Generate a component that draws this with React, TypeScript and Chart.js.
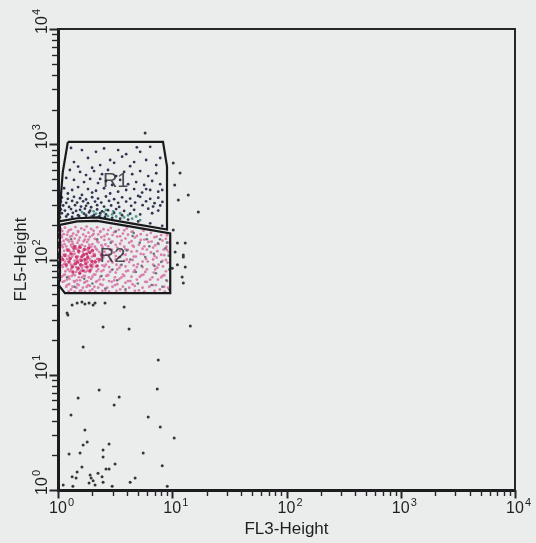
import { useEffect, useRef } from 'react';
import { Chart, registerables } from 'chart.js';

Chart.register(...registerables);

type Pt = [number, number];

// ---- axis data ----
const decadeTicks = [1, 10, 100, 1000, 10000];
const decadeExponents = ['0', '1', '2', '3', '4'];
const minorMultipliers = [1, 2, 3, 4, 5, 6, 7, 8, 9];
const xAxisTitle = 'FL3-Height';
const yAxisTitle = 'FL5-Height';

// ---- gates (FL3, FL5 vertices) ----
const r1GateX = [1.22, 8.3, 9.0, 9.0, 4.5, 2.2, 1.47, 1.02, 1.1, 1.22];
const r1GateY = [1050, 1050, 640, 182, 205, 232, 228, 214, 570, 1050];
const r2GateX = [1.04, 1.47, 2.2, 4.5, 9.6, 9.6, 1.15, 1.0, 1.04, 1.04];
const r2GateY = [200, 214, 216, 192, 168, 51, 51, 61, 66, 200];
const gateNames = ['R1', 'R2'];
const gateLabelX = [3.2, 3.0];
const gateLabelY = [480, 107];

// ---- events ----
const r1Events: Pt[] = [
  [1.62, 890], [2.15, 860], [2.53, 920], [3.36, 890], [3.95, 820], [5.24, 860], [6.41, 950], [1.83, 760],
  [2.86, 730], [3.64, 780], [4.64, 700], [5.91, 730], [7.24, 660], [1.38, 700], [2.34, 660], [3.1, 690],
  [1.99, 625], [4.28, 645], [7.85, 760], [1.5, 640], [1.3, 930], [4.9, 940],
  [1.27, 598], [1.56, 575], [1.76, 540], [2.07, 585], [2.43, 550], [2.74, 598], [3.23, 530], [3.79, 575],
  [4.46, 550], [5.24, 585], [6.16, 530], [7.24, 560], [1.18, 510], [1.38, 490], [1.69, 470], [1.91, 500],
  [2.24, 460], [2.63, 480], [2.98, 443], [3.5, 490], [4.11, 450], [4.83, 470], [5.68, 443], [6.67, 480],
  [7.85, 450], [1.13, 415], [1.33, 401], [1.5, 425], [1.83, 408], [2.15, 395], [2.53, 415], [3.36, 388],
  [3.95, 401], [4.64, 408], [5.45, 381], [6.41, 401], [7.54, 388], [1.22, 374], [1.62, 363], [1.99, 381],
  [2.86, 374], [5.03, 356], [8.17, 401], [2.34, 500], [5.91, 408],
  [1.08, 345], [1.22, 336], [1.38, 350], [1.56, 340], [1.76, 332], [1.99, 347], [2.24, 338], [2.63, 352],
  [3.1, 334], [3.64, 346], [4.28, 338], [5.24, 350], [6.41, 336], [7.54, 344],
  [1.06, 318], [1.18, 310], [1.33, 322], [1.47, 312], [1.66, 320], [1.83, 308], [2.11, 318], [2.39, 312],
  [2.8, 322], [3.36, 310], [3.95, 318], [4.73, 312], [5.9, 320], [7.0, 308], [8.2, 316],
  [1.11, 294], [1.25, 286], [1.41, 296], [1.59, 288], [1.76, 292], [1.95, 284], [2.2, 296], [2.53, 288],
  [2.92, 294], [3.43, 286], [4.37, 292], [5.5, 296], [6.8, 288], [7.85, 294],
  [1.06, 272], [1.15, 266], [1.3, 274], [1.44, 264], [1.56, 270], [1.72, 276], [1.91, 266], [2.2, 272],
  [2.43, 262], [2.74, 268], [3.23, 274], [3.79, 264], [4.64, 270], [6.16, 276], [7.54, 266],
  [1.08, 252], [1.22, 246], [1.35, 254], [1.5, 242], [1.69, 250], [1.87, 256], [2.07, 244], [2.34, 252],
  [2.63, 246], [3.1, 254], [3.64, 242], [4.28, 250], [5.24, 246], [6.67, 252],
  [1.04, 232], [1.18, 236], [1.33, 234], [1.53, 238], [1.76, 240], [2.03, 238], [2.29, 236], [2.58, 234],
  [2.98, 230], [3.5, 226], [4.11, 222], [5.03, 214], [6.41, 206], [8.17, 196],
];

const r1BoundaryEvents: Pt[] = [
  [1.76, 244], [1.95, 236], [2.15, 250], [2.34, 240], [2.53, 258], [2.74, 238], [2.98, 246], [3.23, 236],
  [3.5, 252], [3.79, 232], [4.11, 242], [4.46, 226], [4.83, 236], [5.24, 220], [2.05, 262], [2.63, 270],
  [3.05, 262], [1.62, 258],
];

const r2Events: Pt[] = [
  [1.06, 184], [1.15, 189], [1.3, 182], [1.42, 191], [1.6, 186], [1.78, 193], [1.95, 184], [2.2, 190],
  [2.5, 183], [2.9, 188], [3.4, 181], [4.0, 186],
  [1.04, 172], [1.12, 166], [1.22, 174], [1.36, 168], [1.5, 173], [1.66, 165], [1.85, 171], [2.05, 167],
  [2.35, 174], [2.7, 166], [3.1, 172], [3.7, 168], [4.4, 174], [5.3, 166], [6.5, 170], [8.0, 163],
  [1.08, 156], [1.18, 150], [1.28, 158], [1.4, 152], [1.55, 155], [1.72, 149], [1.9, 157], [2.1, 151],
  [2.4, 156], [2.8, 150], [3.3, 158], [3.9, 152], [4.7, 155], [5.7, 149], [7.0, 156], [8.8, 151],
  [1.05, 141], [1.14, 136], [1.25, 143], [1.35, 137], [1.48, 140], [1.62, 134], [1.8, 142], [2.0, 136],
  [2.25, 141], [2.6, 135], [3.0, 143], [3.5, 137], [4.2, 140], [5.1, 134], [6.2, 142], [7.6, 136], [9.2, 140],
  [1.1, 128], [1.2, 123], [1.32, 129], [1.45, 124], [1.58, 127], [1.75, 122], [1.95, 129], [2.15, 124],
  [2.45, 128], [2.85, 122], [3.3, 127], [3.9, 123], [4.6, 129], [5.5, 124], [6.8, 127], [8.4, 122],
  [1.04, 116], [1.16, 111], [1.28, 117], [1.4, 112], [1.52, 115], [1.68, 110], [1.85, 117], [2.05, 112],
  [2.3, 116], [2.65, 110], [3.1, 115], [3.7, 111], [4.4, 117], [5.3, 112], [6.5, 115], [8.0, 110], [9.3, 116],
  [1.08, 105], [1.2, 101], [1.33, 106], [1.46, 100], [1.6, 104], [1.78, 99], [1.98, 106], [2.2, 101],
  [2.5, 105], [2.9, 99], [3.4, 104], [4.0, 100], [4.8, 106], [5.9, 101], [7.3, 104], [8.8, 99],
  [1.05, 95], [1.13, 91], [1.24, 96], [1.37, 90], [1.5, 94], [1.65, 89], [1.82, 95], [2.02, 91],
  [2.28, 96], [2.62, 90], [3.0, 94], [3.55, 89], [4.2, 95], [5.0, 91], [6.1, 96], [7.6, 90], [9.1, 94],
  [1.1, 86], [1.22, 82], [1.35, 87], [1.48, 81], [1.62, 85], [1.8, 80], [2.0, 86], [2.25, 82],
  [2.55, 87], [2.95, 81], [3.45, 85], [4.1, 80], [4.9, 86], [6.0, 82], [7.4, 85],
  [1.04, 78], [1.15, 74], [1.27, 79], [1.4, 73], [1.55, 77], [1.72, 72], [1.9, 78], [2.12, 74],
  [2.4, 79], [2.75, 73], [3.2, 77], [3.8, 72], [4.6, 78], [5.6, 74], [6.9, 77], [8.5, 73],
  [1.08, 71], [1.2, 67], [1.32, 72], [1.46, 66], [1.62, 70], [1.8, 65], [2.0, 71], [2.3, 67],
  [2.65, 72], [3.1, 66], [3.6, 70], [4.3, 65], [5.2, 71], [6.4, 67], [8.0, 70],
  [1.1, 64], [1.25, 61], [1.38, 65], [1.52, 60], [1.7, 63], [1.9, 59], [2.15, 64], [2.45, 60],
  [2.8, 65], [3.3, 61], [3.9, 63], [4.7, 59], [5.8, 64], [7.2, 60],
  [1.18, 58], [1.3, 55], [1.45, 57], [1.6, 54], [1.78, 58], [2.0, 55], [2.25, 57], [2.6, 54],
  [3.0, 58], [3.5, 55], [4.2, 57], [5.1, 54], [6.3, 58], [7.8, 55], [9.2, 57],
  [1.09, 177], [1.25, 180], [1.5, 176], [1.7, 181], [2.05, 178], [2.35, 175], [2.75, 180], [3.2, 176],
  [3.8, 179], [4.5, 175], [5.6, 178],
  [1.07, 161], [1.2, 164], [1.32, 160], [1.45, 163], [1.75, 159], [2.0, 162], [2.25, 165], [2.55, 160],
  [3.0, 163], [3.5, 159], [4.1, 164], [4.9, 160], [6.0, 163], [7.3, 158], [9.0, 162],
  [1.02, 147], [1.12, 145], [1.22, 148], [1.33, 143], [1.52, 147], [1.68, 144], [1.85, 149], [2.2, 145],
  [2.55, 148], [2.95, 143], [3.6, 146], [4.4, 144], [5.3, 148], [6.6, 143], [8.2, 146],
  [1.08, 133], [1.18, 130], [1.3, 134], [1.42, 129], [1.55, 132], [1.72, 130], [1.88, 134], [2.1, 129],
  [2.4, 133], [2.75, 130], [3.2, 134], [3.8, 129], [4.5, 132], [5.7, 130], [7.1, 133], [8.9, 129],
  [1.02, 121], [1.13, 119], [1.24, 122], [1.37, 118], [1.5, 121], [1.65, 117], [1.82, 122], [2.0, 118],
  [2.2, 121], [2.55, 117], [2.95, 122], [3.5, 119], [4.1, 121], [4.9, 118], [6.0, 122], [7.4, 118], [9.0, 121],
  [1.12, 110], [1.24, 107], [1.36, 111], [1.5, 106], [1.64, 109], [1.82, 107], [2.1, 111], [2.4, 106],
  [2.8, 110], [3.2, 107], [3.9, 110], [4.6, 106], [5.6, 111], [7.0, 107], [8.5, 109],
  [1.03, 99], [1.15, 96], [1.27, 100], [1.4, 97], [1.55, 99], [1.72, 96], [1.9, 100], [2.1, 97],
  [2.38, 99], [2.75, 96], [3.2, 100], [3.8, 97], [4.5, 99], [5.5, 96], [6.8, 100], [8.2, 97],
  [1.08, 89], [1.18, 87], [1.3, 90], [1.44, 86], [1.58, 88], [1.74, 86], [1.92, 90], [2.15, 87],
  [2.45, 89], [2.8, 86], [3.25, 90], [3.9, 87], [4.6, 89], [5.5, 86], [6.8, 90], [8.3, 87],
  [1.04, 81], [1.16, 79], [1.3, 82], [1.44, 78], [1.58, 80], [1.74, 78], [1.95, 82], [2.18, 79],
  [2.5, 81], [2.85, 78], [3.3, 82], [3.95, 79], [4.7, 81], [5.8, 78], [7.1, 82], [8.8, 79],
  [1.12, 73], [1.24, 71], [1.36, 74], [1.52, 70], [1.68, 72], [1.86, 70], [2.06, 74], [2.35, 71],
  [2.7, 73], [3.15, 70], [3.7, 74], [4.4, 71], [5.4, 73], [6.7, 70], [8.2, 72],
  [1.04, 67], [1.14, 65], [1.26, 68], [1.4, 64], [1.56, 66], [1.74, 64], [1.95, 68], [2.2, 65],
  [2.5, 67], [2.95, 64], [3.45, 68], [4.1, 65], [4.9, 67], [6.0, 64], [7.5, 67], [9.0, 65],
  [1.2, 60], [1.34, 58], [1.48, 61], [1.65, 57], [1.84, 60], [2.08, 58], [2.35, 61], [2.7, 57],
  [3.15, 60], [3.7, 58], [4.5, 61], [5.5, 57], [6.8, 60], [8.5, 58],
  [1.24, 53], [1.4, 52.5], [1.55, 53.5], [1.72, 52.5], [1.9, 53.5], [2.12, 52.5], [2.45, 53.5], [2.8, 52.5],
  [3.25, 53.5], [3.9, 52.5], [4.7, 53.5], [5.7, 52.5], [7.0, 53.5], [8.6, 52.5],
];

const r2CoreEvents: Pt[] = [
  [1.22, 120], [1.3, 112], [1.38, 125], [1.45, 105], [1.52, 118], [1.6, 98], [1.68, 110], [1.75, 92],
  [1.82, 104], [1.9, 115], [1.98, 96], [2.08, 108], [2.2, 88], [2.3, 100], [1.25, 95], [1.33, 86],
  [1.42, 92], [1.5, 84], [1.58, 90], [1.66, 80], [1.72, 100], [1.8, 86], [1.4, 130], [1.55, 128],
  [1.7, 122], [1.86, 126], [2.0, 120], [1.15, 108], [1.18, 90], [1.28, 102], [1.48, 95], [1.62, 106],
  [1.78, 112], [1.95, 88], [2.12, 95], [2.4, 110], [1.35, 78], [1.55, 76], [1.1, 100], [1.9, 80],
];

const r2GrayEvents: Pt[] = [
  [3.2, 175], [4.5, 160], [6.0, 150], [7.5, 138], [8.7, 125], [9.3, 108], [8.0, 95], [9.4, 82],
  [7.2, 76], [8.9, 66], [6.6, 60], [9.4, 55], [5.2, 140], [4.0, 120], [5.8, 105], [3.6, 90],
  [4.8, 78], [3.3, 66], [2.6, 56], [2.0, 62], [1.4, 58], [6.9, 112], [7.8, 150], [5.4, 88],
  [4.3, 100], [2.9, 140], [2.4, 72], [1.7, 68], [3.9, 55], [6.3, 130], [8.2, 58], [5.0, 62],
  [3.0, 82], [9.0, 140], [7.0, 88], [2.2, 150], [1.3, 150], [1.2, 70], [4.6, 170], [3.5, 105],
];

const ungatedEvents: Pt[] = [
  [1.2, 34.3], [1.22, 33.0], [1.33, 40.3], [1.47, 41.9], [1.62, 42.8], [1.72, 41.1], [1.87, 41.9], [2.03, 40.3],
  [2.11, 41.9], [2.58, 41.9], [3.79, 38.7], [2.48, 26.0], [4.19, 24.9], [14.4, 26.5], [1.66, 17.4], [7.54, 13.4],
  [7.39, 7.52], [2.29, 7.37], [1.5, 6.28], [3.43, 6.41], [3.1, 5.46], [1.3, 4.48], [6.16, 4.3], [7.85, 3.52],
  [1.72, 3.31], [10.4, 2.83], [1.8, 2.61], [1.66, 2.46], [2.8, 2.51], [1.25, 2.05], [1.56, 2.09], [2.48, 2.22],
  [5.57, 2.09], [2.48, 1.93], [3.16, 1.68], [1.62, 1.58], [2.63, 1.52], [2.8, 1.52], [8.17, 1.62], [1.47, 1.43],
  [1.91, 1.35], [2.24, 1.4], [2.43, 1.3], [1.33, 1.3], [1.44, 1.27], [1.95, 1.27], [2.03, 1.2], [2.48, 1.17],
  [4.28, 1.17], [4.73, 1.27], [1.11, 1.105], [1.35, 1.08], [2.11, 1.105], [2.98, 1.08], [9.04, 1.08], [1.87, 1.15],
  [11.1, 139], [13.0, 139], [10.6, 116], [12.5, 109.5], [11.1, 90], [13.0, 86], [10.0, 84], [12.2, 70.5],
  [12.5, 62.5], [12.5, 105],
  [5.79, 1253], [10.2, 687], [11.7, 563], [13.8, 363], [11.3, 328], [16.9, 258], [10.2, 180], [10.5, 443],
];

const BG = '#ebedec';
const INK = '#1f1f22';
const FONT = '"Liberation Sans", Arial, sans-serif';

const toXY = (pts: Pt[]) => pts.map(([x, y]) => ({ x, y }));
const gateXY = (xs: number[], ys: number[]) => xs.map((x, i) => ({ x, y: ys[i] }));
const isDecade = (v: number) => Math.abs(Math.log10(v) - Math.round(Math.log10(v))) < 1e-6;
const axisTickValues: number[] = [];
decadeTicks.forEach((d, i) => {
  if (i === decadeTicks.length - 1) axisTickValues.push(d);
  else minorMultipliers.forEach((m) => axisTickValues.push(d * m));
});

const bgPlugin = {
  id: 'bgFill',
  beforeDraw(chart: any) {
    const c = chart.ctx;
    c.save();
    c.fillStyle = BG;
    c.fillRect(0, 0, chart.width, chart.height);
    c.restore();
  },
};

const decorPlugin = {
  id: 'decor',
  afterDraw(chart: any) {
    const { ctx, chartArea: a, scales } = chart;
    const xs = scales.x;
    const ys = scales.y;
    ctx.save();
    // frame top / right
    ctx.strokeStyle = '#262628';
    ctx.lineWidth = 2;
    ctx.beginPath();
    ctx.moveTo(a.left, a.top);
    ctx.lineTo(a.right, a.top);
    ctx.lineTo(a.right, a.bottom);
    ctx.stroke();

    // log tick marks (outside the axis lines)
    ctx.strokeStyle = '#26262a';
    axisTickValues.forEach((v) => {
      const major = isDecade(v);
      const len = major ? 7 : 4.5;
      ctx.lineWidth = major ? 2 : 1.4;
      const px = Math.round(xs.getPixelForValue(v)) + 0.5;
      ctx.beginPath();
      ctx.moveTo(px, a.bottom);
      ctx.lineTo(px, a.bottom + 1.5 + len);
      ctx.stroke();
      const py = Math.round(ys.getPixelForValue(v)) + 0.5;
      ctx.beginPath();
      ctx.moveTo(a.left, py);
      ctx.lineTo(a.left - 1.5 - len, py);
      ctx.stroke();
    });

    ctx.fillStyle = INK;
    // x tick labels
    decadeTicks.forEach((v, i) => {
      const px = xs.getPixelForValue(v);
      const base = a.bottom + 23;
      ctx.font = `16px ${FONT}`;
      ctx.textAlign = 'center';
      ctx.textBaseline = 'alphabetic';
      ctx.fillText('10', px, base);
      const w = ctx.measureText('10').width;
      ctx.font = `11px ${FONT}`;
      ctx.textAlign = 'left';
      ctx.fillText(decadeExponents[i], px + w / 2 + 1, base - 7);
    });
    // y tick labels (rotated)
    decadeTicks.forEach((v, i) => {
      const py = ys.getPixelForValue(v);
      ctx.save();
      ctx.translate(a.left - 11, py);
      ctx.rotate(-Math.PI / 2);
      ctx.font = `16px ${FONT}`;
      ctx.textAlign = 'center';
      ctx.textBaseline = 'alphabetic';
      ctx.fillText('10', 4, 0);
      const w = ctx.measureText('10').width;
      ctx.font = `11px ${FONT}`;
      ctx.textAlign = 'left';
      ctx.fillText(decadeExponents[i], 4 + w / 2 + 1, -7);
      ctx.restore();
    });
    // axis titles
    ctx.font = `17px ${FONT}`;
    ctx.textAlign = 'center';
    ctx.textBaseline = 'alphabetic';
    ctx.fillText(xAxisTitle, (a.left + a.right) / 2, a.bottom + 44);
    ctx.save();
    ctx.translate(26, (a.top + a.bottom) / 2);
    ctx.rotate(-Math.PI / 2);
    ctx.fillText(yAxisTitle, 0, 0);
    ctx.restore();
    // gate labels
    ctx.font = `20px ${FONT}`;
    ctx.fillStyle = 'rgba(45,45,55,0.85)';
    ctx.textBaseline = 'middle';
    gateNames.forEach((name, i) => {
      ctx.fillText(name, xs.getPixelForValue(gateLabelX[i]), ys.getPixelForValue(gateLabelY[i]));
    });
    ctx.restore();
  },
};

const dotSet = (data: Pt[], color: string, r: number) => ({
  data: toXY(data),
  backgroundColor: color,
  borderWidth: 0,
  pointRadius: r,
  pointHoverRadius: r,
  pointBorderWidth: 0,
});

const gateSet = (xs: number[], ys: number[]) => ({
  data: gateXY(xs, ys),
  showLine: true,
  borderColor: '#1a1a1c',
  borderWidth: 2.2,
  pointRadius: 0,
  fill: false,
  tension: 0,
});

const axisCommon = (fit: (s: any) => void) => ({
  type: 'logarithmic' as const,
  min: 1,
  max: 10000,
  afterFit: fit,
  ticks: { display: false },
  grid: { display: false },
  border: { display: true, color: '#1c1c1e', width: 3 },
});

export default function App() {
  const ref = useRef<HTMLCanvasElement | null>(null);
  useEffect(() => {
    if (!ref.current) return;
    const chart = new Chart(ref.current, {
      type: 'scatter',
      data: {
        datasets: [
          gateSet(r1GateX, r1GateY),
          gateSet(r2GateX, r2GateY),
          dotSet(r1Events, '#2f3552', 1.4),
          dotSet(r1BoundaryEvents, '#4f9a8c', 1.4),
          dotSet(r2CoreEvents, '#d23a74', 1.7),
          dotSet(r2GrayEvents, '#6f7380', 1.3),
          dotSet(r2Events, '#d97fae', 1.4),
          dotSet(ungatedEvents, '#36363a', 1.5),
        ] as any,
      },
      options: {
        animation: false,
        responsive: true,
        maintainAspectRatio: false,
        events: [],
        layout: { padding: { top: 29, right: 21, left: 0, bottom: 0 } },
        plugins: { legend: { display: false }, tooltip: { enabled: false } },
        scales: {
          x: { ...axisCommon((s: any) => { s.height = 53; }), position: 'bottom' },
          y: { ...axisCommon((s: any) => { s.width = 58; }), position: 'left' },
        } as any,
      },
      plugins: [bgPlugin, decorPlugin],
    });
    return () => chart.destroy();
  }, []);
  return (
    <div style={{ position: 'absolute', left: 0, top: 0, width: 536, height: 543, background: BG }}>
      <canvas ref={ref} style={{ display: 'block' }} />
    </div>
  );
}
